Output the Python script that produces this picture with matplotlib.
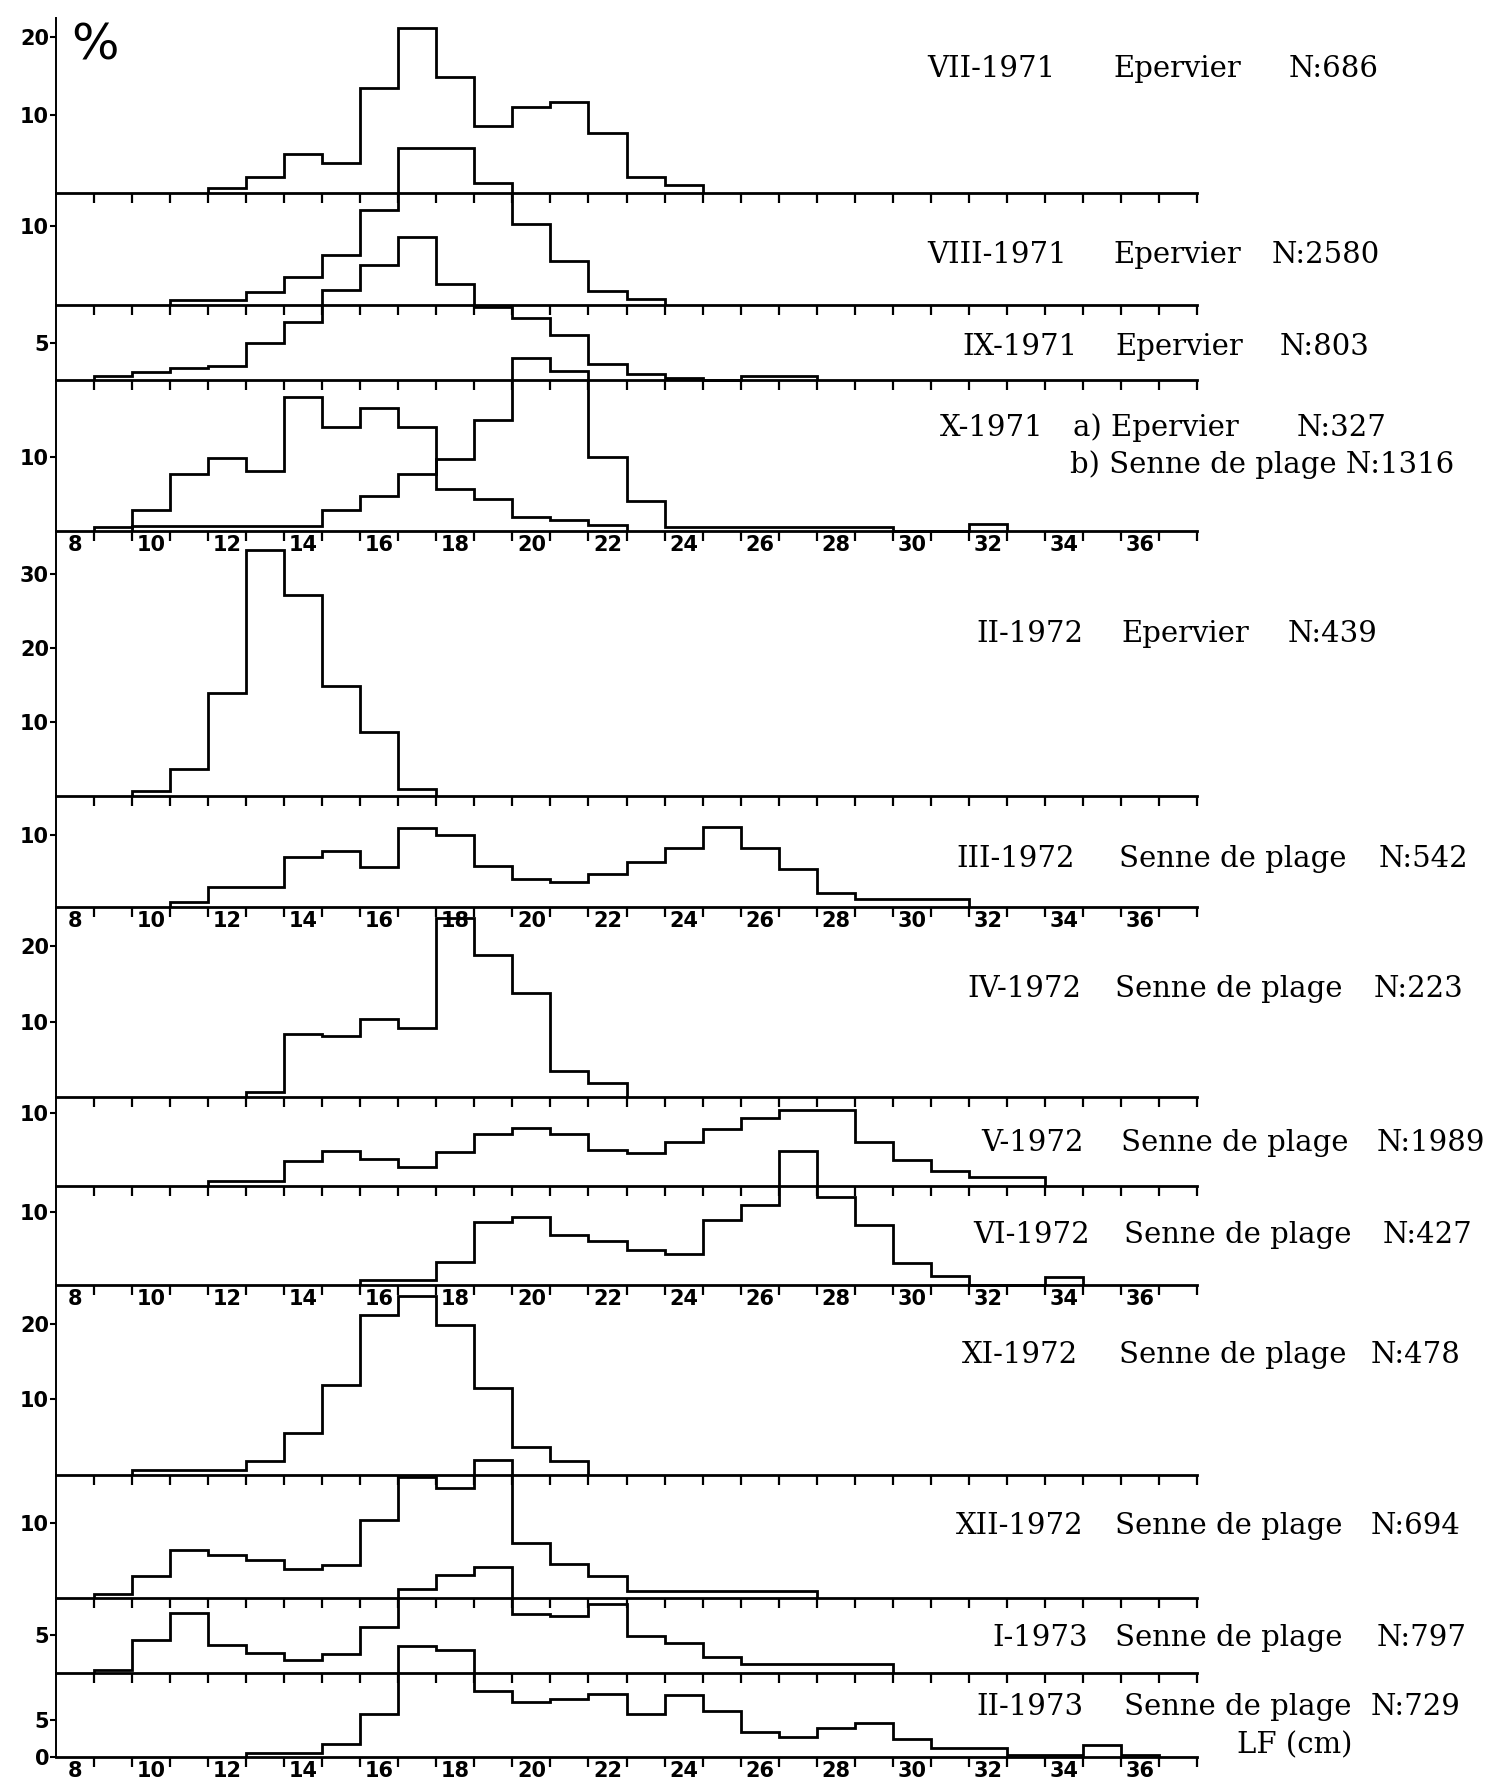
import numpy as np
import matplotlib
matplotlib.use("Agg")
import matplotlib.pyplot as plt

# length classes (cm), 1 cm bins centred on integers
xmin, xmax = 7.5, 37.5
label_ticks = np.arange(8, 37, 2)

# % per class, first value = class given in *_start
vii_1971_start = 12
vii_1971 = [0.6, 2.0, 5.0, 3.8, 13.4, 21.2, 14.9, 8.6, 11.0, 11.7, 7.7, 2.0, 1.0]
viii_1971_start = 11
viii_1971 = [0.6, 0.6, 1.6, 3.5, 6.3, 12.0, 19.9, 19.9, 15.5, 10.3, 5.6, 1.8, 0.8]
ix_1971_start = 9
ix_1971 = [0.5, 1.1, 1.6, 1.9, 5.0, 7.9, 12.2, 15.5, 19.3, 13.0, 9.9, 8.4, 6.1,
           2.2, 0.8, 0.3, 0.0, 0.5, 0.5]
x_1971_a_start = 9
x_1971_a = [0.6, 2.8, 7.7, 9.8, 8.1, 18.1, 14.0, 16.6, 14.0, 5.7, 4.3, 1.9, 1.5, 0.8]
x_1971_b_start = 10
x_1971_b = [0.7, 0.7, 0.7, 0.7, 0.7, 2.8, 4.7, 7.7, 9.7, 15.0, 23.3, 21.5, 10.0,
            4.0, 0.5, 0.5, 0.5, 0.5, 0.5, 0.5, 0.0, 0.0, 0.9]
ii_1972_start = 10
ii_1972 = [0.7, 3.6, 13.9, 33.3, 27.2, 14.9, 8.6, 0.9]
iii_1972_start = 11
iii_1972 = [0.65, 2.8, 2.8, 6.9, 7.8, 5.5, 10.9, 9.9, 5.7, 3.9, 3.4, 4.6, 6.2,
            8.2, 11.0, 8.2, 5.3, 1.9, 1.1, 1.1, 1.1]
iv_1972_start = 13
iv_1972 = [0.6, 8.4, 8.1, 10.4, 9.1, 23.8, 18.8, 13.8, 3.4, 1.8]
v_1972_start = 12
v_1972 = [0.7, 0.7, 3.4, 4.8, 3.7, 2.6, 4.7, 7.2, 8.0, 7.2, 4.9, 4.5, 6.1, 7.8,
          9.4, 10.4, 10.4, 6.0, 3.6, 2.1, 1.2, 1.2]
vi_1972_start = 16
vi_1972 = [0.7, 0.7, 3.2, 8.6, 9.3, 6.8, 6.0, 4.8, 4.2, 8.9, 10.9, 18.3, 12.0,
           8.2, 3.0, 1.2, 0.0, 0.0, 1.1]
xi_1972_start = 10
xi_1972 = [0.6, 0.6, 0.6, 1.9, 5.6, 11.9, 21.1, 23.6, 19.8, 11.5, 3.7, 1.8]
xii_1972_start = 9
xii_1972 = [0.5, 2.9, 6.4, 5.8, 5.1, 3.9, 4.4, 10.4, 16.1, 14.7, 18.4, 7.4, 4.6,
            3.0, 0.9, 0.9, 0.9, 0.9, 0.9]
i_1973_start = 9
i_1973 = [0.45, 4.4, 8.0, 3.7, 2.6, 1.7, 2.5, 6.1, 11.2, 13.0, 14.1, 7.9, 7.6,
          9.2, 4.9, 4.0, 2.1, 1.2, 1.2, 1.2, 1.2]
ii_1973_start = 13
ii_1973 = [0.6, 0.6, 1.8, 5.7, 14.9, 14.3, 8.9, 7.3, 7.7, 8.4, 5.7, 8.3, 6.1,
           3.3, 2.7, 3.9, 4.5, 2.4, 1.25, 1.25, 0.3, 0.3, 1.6, 0.3]

# panel layout: baseline (px from top), px per %, y ticks, x labels shown
panels = [
    ([(vii_1971_start, vii_1971)], 193, 7.8, [10, 20], False),
    ([(viii_1971_start, viii_1971)], 305, 7.9, [10], False),
    ([(ix_1971_start, ix_1971)], 380, 7.4, [5], False),
    ([(x_1971_a_start, x_1971_a), (x_1971_b_start, x_1971_b)], 531, 7.43, [10], True),
    ([(ii_1972_start, ii_1972)], 796, 7.4, [10, 20, 30], False),
    ([(iii_1972_start, iii_1972)], 907, 7.23, [10], True),
    ([(iv_1972_start, iv_1972)], 1097, 7.53, [10, 20], False),
    ([(v_1972_start, v_1972)], 1186, 7.27, [10], False),
    ([(vi_1972_start, vi_1972)], 1285, 7.33, [10], True),
    ([(xi_1972_start, xi_1972)], 1475, 7.57, [10, 20], False),
    ([(xii_1972_start, xii_1972)], 1598, 7.5, [10], False),
    ([(i_1973_start, i_1973)], 1673, 7.53, [5], False),
    ([(ii_1973_start, ii_1973)], 1757, 7.47, [0, 5], True),
]

# right-hand captions: (text, x px, y px)
captions = [
    ("VII-1971", 927, 69), ("Epervier", 1113, 69), ("N:686", 1289, 69),
    ("VIII-1971", 927, 255), ("Epervier", 1113, 255), ("N:2580", 1272, 255),
    ("IX-1971", 962, 347), ("Epervier", 1115, 347), ("N:803", 1280, 347),
    ("X-1971", 940, 428), ("a) Epervier", 1073, 428), ("N:327", 1297, 428),
    ("b) Senne de plage N:1316", 1070, 465),
    ("II-1972", 976, 634), ("Epervier", 1121, 634), ("N:439", 1288, 634),
    ("III-1972", 956, 859), ("Senne de plage", 1119, 859), ("N:542", 1379, 859),
    ("IV-1972", 967, 989), ("Senne de plage", 1115, 989), ("N:223", 1374, 989),
    ("V-1972", 981, 1143), ("Senne de plage", 1121, 1143), ("N:1989", 1377, 1143),
    ("VI-1972", 973, 1235), ("Senne de plage", 1124, 1235), ("N:427", 1383, 1235),
    ("XI-1972", 962, 1355), ("Senne de plage", 1119, 1355), ("N:478", 1371, 1355),
    ("XII-1972", 956, 1526), ("Senne de plage", 1115, 1526), ("N:694", 1371, 1526),
    ("I-1973", 992, 1638), ("Senne de plage", 1115, 1638), ("N:797", 1377, 1638),
    ("II-1973", 976, 1707), ("Senne de plage", 1124, 1707), ("N:729", 1371, 1707),
    ("LF (cm)", 1237, 1745),
]

W, H = 1491, 1784
fig = plt.figure(figsize=(W / 100, H / 100), dpi=100)
fig.patch.set_facecolor("white")

x_left, x_right = 56, 1197
top = 18
lw = 2.0

for series, base, scale, yt, show_x in panels:
    h = base - top
    ax = fig.add_axes([x_left / W, 1 - base / H, (x_right - x_left) / W, h / H])
    ax.patch.set_alpha(0)
    ax.set_xlim(xmin, xmax)
    ax.set_ylim(0, h / scale)
    for s in ["top", "right"]:
        ax.spines[s].set_visible(False)
    ax.spines["left"].set_linewidth(1.4)
    ax.spines["bottom"].set_linewidth(2.0)

    for start, vals in series:
        edges = start - 0.5 + np.arange(len(vals) + 1)
        ax.stairs(vals, edges, color="black", linewidth=lw, clip_on=False)

    ax.set_yticks(yt)
    ax.set_yticklabels([str(v) for v in yt], fontweight="bold", fontsize=15)
    ax.tick_params(axis="y", direction="out", length=4, width=1.5, pad=1)

    ax.set_xticks(np.arange(8.5, 38, 1), minor=True)
    ax.tick_params(axis="x", which="minor", direction="out", length=7, width=1.6)
    if show_x:
        ax.set_xticks(label_ticks)
        ax.set_xticklabels([str(v) for v in label_ticks], fontweight="bold", fontsize=15)
        ax.tick_params(axis="x", which="major", length=0, pad=3)
    else:
        ax.set_xticks([])
    top = base

for txt, x, y in captions:
    fig.text(x / W, 1 - y / H, txt, family="DejaVu Serif", fontsize=21,
             ha="left", va="center")

# percent sign at top of the axis
fig.text(95 / W, 1 - 45 / H, "%", fontsize=36, ha="center", va="center")

fig.savefig("out.png", dpi=100)
